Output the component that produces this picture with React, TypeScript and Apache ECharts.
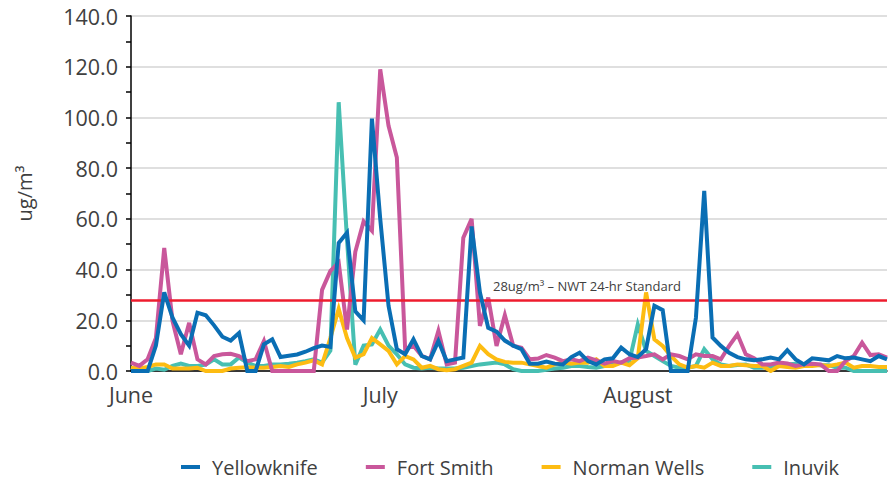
import React, { useEffect, useRef } from "react";
import * as echarts from "echarts";

const monthNames = ["June", "July", "August"];
const monthDays = [30, 31, 31];
const monthShort = ["Jun", "Jul", "Aug"];

const yellowknife = [
  0, 0, 0, 10, 31, 21, 14.5, 10, 23, 22, 18, 13.5, 12, 15, 0, 0, 10.5, 12.5, 5.5, 6,
  6.5, 7.6, 9, 10, 9.5, 50.5, 54.5, 23.5, 20, 99.5, 60, 25.7, 8.6, 6.6, 12.5, 5.9, 4.6, 11.8, 3.9, 4.6,
  5.3, 57, 31, 17, 15.5, 12, 10, 8.6, 2.9, 2.9, 3.7, 2.9, 2.6, 5.5, 7.2, 3.9, 2.6, 4.6, 5, 9.2,
  6.6, 5.5, 8.6, 25.7, 24, 0, 0, 0, 21, 71, 13.2, 9.9, 7.2, 5.5, 4.6, 4.2, 4.6, 5.3, 4.6, 8.2,
  4.6, 2.6, 5, 4.6, 4.2, 5.9, 5, 5.3, 4.6, 3.9, 5.9, 4.6,
];

const fortSmith = [
  3.3, 2, 4.6, 13, 48.5, 19.7, 6.6, 19, 4.6, 2.6, 5.9, 6.6, 6.8, 5.9, 3.9, 4.6, 11.8, 0, 0, 0,
  0, 0, 0, 32, 39.5, 42.8, 16.4, 47, 59, 55.3, 119, 96.7, 84.2, 8.6, 10, 6, 4.6, 15.8, 2.6, 3.3,
  52.6, 60, 17.8, 29, 9.9, 22, 10, 9.2, 4.6, 4.9, 6.3, 5.3, 3.9, 4.6, 3.9, 5.3, 4.2, 2.9, 3.9, 3.3,
  5, 5.3, 5.9, 6.6, 4.6, 6.6, 5.9, 4.6, 6.6, 5.9, 5.9, 4.6, 9.9, 14.5, 6.6, 5, 2.6, 2.6, 3.3, 3,
  2, 2.6, 2.9, 2.6, 0, 0, 3.9, 5.9, 11.2, 6.3, 6.6, 5.3,
];

const normanWells = [
  1.3, 1, 1.6, 2.6, 2.6, 1, 1, 1, 1.3, 0, 0, 0, 1, 1.3, 1.5, 1.3, 1.3, 1.6, 2, 1.6,
  2.6, 3.3, 4.2, 2.6, 13, 24.5, 13, 5.3, 6.6, 13, 10.5, 7.9, 2.6, 5.9, 4.6, 1.3, 2, 0.7, 0.3, 0.7,
  2, 3.3, 9.9, 6.6, 4.6, 3.6, 3.3, 3.3, 2.6, 2, 1.3, 2.6, 3.3, 2.9, 3.3, 3.3, 4.6, 2, 2, 3.3,
  2.3, 5, 31, 12.5, 9.9, 5.9, 2.6, 1.3, 2, 1.3, 3.3, 2, 2, 2.6, 2.3, 2, 2, 0, 2, 1.6,
  1.3, 2, 2, 2.4, 2, 2.6, 3.3, 1.3, 2, 2, 1.6, 1.6,
];

const inuvik = [
  1.3, 0.5, 0, 1, 0.5, 2, 2.9, 2, 2, 2.5, 4.6, 2.6, 2.6, 5.3, 3.3, 2, 2, 2.6, 2.6, 2.9,
  3.3, 3.9, 4.6, 3.3, 8, 106, 52, 2.5, 10, 10.5, 16.4, 10, 6.6, 2.6, 1.3, 1, 1.3, 1, 1, 1,
  1.3, 2, 2.6, 3, 3.3, 2.6, 0.7, 0, 0, 0, 0.5, 1, 1.3, 2, 2, 1.6, 1.3, 2, 2.6, 3.3,
  4, 18.4, 7.9, 5.9, 3.9, 2, 1.3, 1.3, 2, 8.6, 4.6, 2.6, 2, 2.4, 2.6, 1.3, 1.3, 1.6, 2.6, 2.6,
  2.9, 2.6, 2.6, 2.3, 2.3, 1.3, 1.3, 0, 0, 0, 0, 0,
];

const standardValue = 28;
const standardLabel = "28ug/m³ – NWT 24-hr Standard";
const yTicks = [0, 20, 40, 60, 80, 100, 120, 140];

const categories: string[] = [];
const monthStartIndex: number[] = [];
monthDays.forEach((n, m) => {
  monthStartIndex.push(categories.length);
  for (let d = 1; d <= n; d++) categories.push(monthShort[m] + " " + d);
});

const seriesDefs = [
  { name: "Yellowknife", data: yellowknife, color: "#0A6EB4", z: 5 },
  { name: "Fort Smith", data: fortSmith, color: "#C9579B", z: 4 },
  { name: "Norman Wells", data: normanWells, color: "#FDBC12", z: 3 },
  { name: "Inuvik", data: inuvik, color: "#47BFB2", z: 2 },
];

const FONT = "'Open Sans', 'Noto Sans', sans-serif";
const TEXT = "#404040";

export default function App() {
  const ref = useRef<HTMLDivElement>(null);
  useEffect(() => {
    document.body.style.margin = "0";
    if (!ref.current) return;
    const chart = echarts.init(ref.current, undefined, { renderer: "svg" });
    chart.setOption({
      animation: false,
      textStyle: { fontFamily: FONT },
      grid: { left: 131, right: 1, top: 16, bottom: 110 },
      legend: {
        data: seriesDefs.map((s) => s.name),
        left: 176,
        top: 450,
        icon: "rect",
        itemWidth: 19,
        itemHeight: 4,
        itemGap: 48,
        textStyle: {
          fontSize: 20,
          color: TEXT,
          fontFamily: FONT,
          lineHeight: 24,
          padding: [0, 0, 0, 7],
        },
      },
      xAxis: {
        type: "category",
        data: categories,
        boundaryGap: false,
        axisLine: { show: true, lineStyle: { color: "#000", width: 1.5 } },
        axisTick: { show: false },
        splitLine: { show: false },
        axisLabel: {
          interval: (index: number) => monthStartIndex.includes(index),
          formatter: (_v: string, index: number) => {
            const i = monthStartIndex.indexOf(index);
            return i >= 0 ? monthNames[i] : "";
          },
          fontSize: 21.5,
          color: TEXT,
          fontFamily: FONT,
          margin: 12,
        },
      },
      yAxis: {
        type: "value",
        min: yTicks[0],
        max: yTicks[yTicks.length - 1],
        interval: 20,
        name: "ug/m³",
        nameLocation: "middle",
        nameGap: 97,
        nameTextStyle: { fontSize: 20, color: TEXT, fontFamily: FONT },
        axisLine: { show: true, lineStyle: { color: "#000", width: 1.5 } },
        axisTick: { show: true, length: 5, lineStyle: { color: "#000", width: 1.5 } },
        minorTick: { show: true, splitNumber: 2, length: 5, lineStyle: { color: "#000", width: 1.5 } },
        splitLine: { show: true, lineStyle: { color: "#D4D4D4", width: 1.5 } },
        axisLabel: {
          formatter: (v: number) => v.toFixed(1),
          fontSize: 21.5,
          color: TEXT,
          fontFamily: FONT,
          margin: 13,
        },
      },
      series: [
        ...seriesDefs.map((s) => ({
          name: s.name,
          type: "line",
          data: s.data,
          z: s.z,
          symbol: "none",
          showSymbol: false,
          lineStyle: { color: s.color, width: 4, join: "miter" },
          itemStyle: { color: s.color },
        })),
        {
          name: "standard",
          type: "line",
          data: [],
          z: 10,
          markLine: {
            silent: true,
            symbol: "none",
            lineStyle: { color: "#EE1C2E", width: 2.5, type: "solid" },
            label: { show: false },
            data: [{ yAxis: standardValue }],
          },
        },
      ],
      graphic: [
        {
          type: "text",
          x: 493,
          y: 286,
          z: 20,
          style: {
            text: standardLabel,
            fontSize: 13,
            fontFamily: FONT,
            fill: TEXT,
            verticalAlign: "middle",
          },
        },
      ],
    });
    return () => chart.dispose();
  }, []);
  return <div ref={ref} style={{ width: 888, height: 481 }} />;
}
